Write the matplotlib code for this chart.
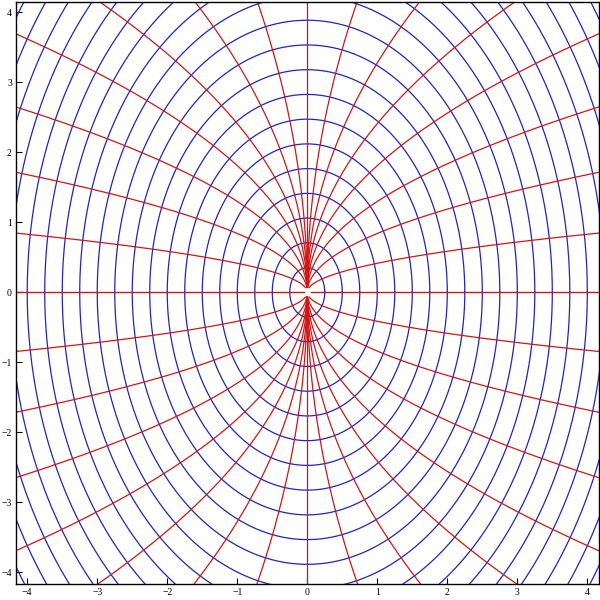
import matplotlib
matplotlib.use('Agg')
import matplotlib.pyplot as plt
import numpy as np

## 파란 타원: x^2 + y^2/2 = a^2 (x축 반지름 a)
ellipse_a = [0.25 * n for n in range(1, 25)]
ellipse_ratio = np.sqrt(2.0)

## 빨간 포물선: x = k * y^2 (사분면마다 같은 k)
parabola_k = [0.0413, 0.093, 0.172, 0.305, 0.593, 1.415, 5.81]

x_ticks = [-4, -3, -2, -1, 0, 1, 2, 3, 4]
y_ticks = [-4, -3, -2, -1, 0, 1, 2, 3, 4]

blue = '#2222c8'
red = '#d01515'

fig = plt.figure(figsize=(6, 6), dpi=100)
ax = fig.add_axes([0.0267, 0.0267, 0.972, 0.970])

t = np.linspace(0, 2 * np.pi, 800)
for a in ellipse_a:
    ax.plot(a * np.cos(t), ellipse_ratio * a * np.sin(t), color=blue, lw=0.9)

## 원점 근처는 Mathematica처럼 살짝 비워둠
yy = np.linspace(0.07, 4.3, 3000)
for k in parabola_k:
    for sx in (1, -1):
        for sy in (1, -1):
            ax.plot(sx * k * yy ** 2, sy * yy, color=red, lw=0.9)

ax.plot([0, 0], [0.07, 4.3], color=red, lw=0.9)
ax.plot([0, 0], [-0.07, -4.3], color=red, lw=0.9)
ax.plot([0.05, 4.3], [0, 0], color=red, lw=1.0)
ax.plot([-0.05, -4.3], [0, 0], color=red, lw=1.0)

ax.set_xlim(-4.16, 4.17)
ax.set_ylim(-4.17, 4.15)
ax.set_xticks(x_ticks)
ax.set_yticks(y_ticks)
ax.tick_params(direction='in', length=4, width=0.8, labelsize=7, pad=3,
               top=False, right=False)
for lab in ax.get_xticklabels() + ax.get_yticklabels():
    lab.set_family('Liberation Serif')
for sp in ax.spines.values():
    sp.set_linewidth(1.0)

plt.savefig('out.png', dpi=100)
